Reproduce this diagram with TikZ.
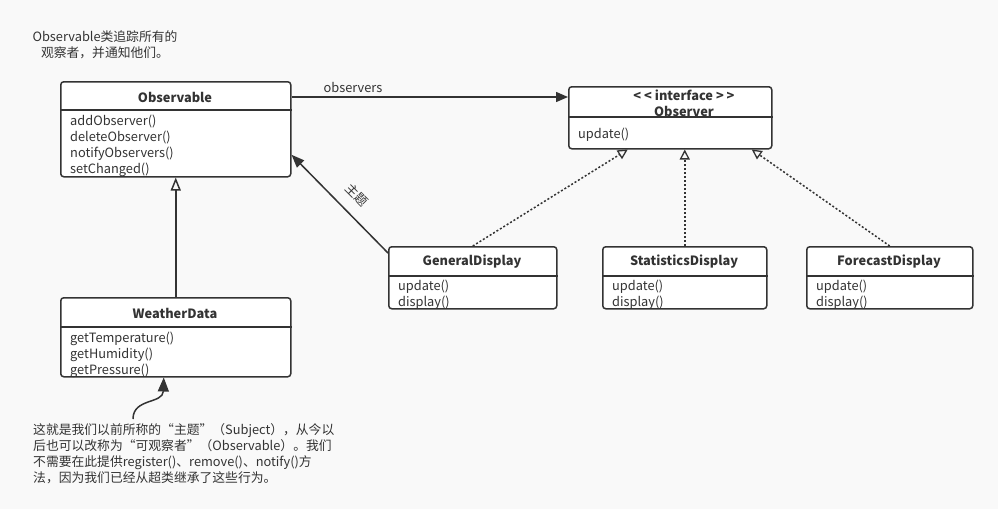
\documentclass[tikz,border=0pt]{standalone}
\usepackage{fontspec}
\setmainfont{Noto Sans CJK SC}
\usetikzlibrary{arrows.meta}
\definecolor{ink}{HTML}{333333}
\definecolor{bg}{HTML}{F9F9F9}
\begin{document}
\begin{tikzpicture}[x=1pt,y=1pt,
  umlbox/.style={draw=ink, line width=1.5pt, fill=white, rounded corners=3pt, anchor=north west, inner sep=0},
  sepline/.style={draw=ink, line width=1.5pt},
  title/.style={font=\fontsize{12.8}{14}\selectfont\bfseries, text=ink, inner sep=0},
  meth/.style={font=\fontsize{12.8}{16}\selectfont, text=ink, align=left, anchor=north west, inner sep=0},
  plain/.style={font=\fontsize{12.8}{16}\selectfont, text=ink, inner sep=0},
  conn/.style={draw=ink, line width=1.5pt},
  dotconn/.style={draw=ink, line width=1.5pt, dash pattern=on 2pt off 2pt},
  realhead/.style={-{Triangle[open,length=10pt,width=10pt,line width=1.3pt]}},
]
\useasboundingbox (0,0) rectangle (998,-509);
\fill[bg] (0,0) rectangle (998,-509);

% Observable
\node[umlbox, minimum width=230pt, minimum height=95pt] (obs) at (60,-81) {};
\draw[sepline] ([yshift=-29pt]obs.north west) -- ([yshift=-29pt]obs.north east);
\node[title] (obsT) at (175,-97) {Observable};
\node[meth] (obsM) at (70,-114.5) {addObserver()\\deleteObserver()\\notifyObservers()\\setChanged()};

% Observer
\node[umlbox, minimum width=203pt, minimum height=62pt] (obsv) at (568,-86) {};
\draw[sepline] ([yshift=-31pt]obsv.north west) -- ([yshift=-31pt]obsv.north east);
\node[title] (obsvS) at (684,-95) {< < interface > >};
\node[title] (obsvT) at (684,-111) {Observer};
\node[meth] (obsvM) at (578,-127.5) {update()};

% WeatherData
\node[umlbox, minimum width=230pt, minimum height=79pt] (wd) at (60,-297) {};
\draw[sepline] ([yshift=-30pt]wd.north west) -- ([yshift=-30pt]wd.north east);
\node[title] (wdT) at (175,-313) {WeatherData};
\node[meth] (wdM) at (70,-331.5) {getTemperature()\\getHumidity()\\getPressure()};

% GeneralDisplay
\node[umlbox, minimum width=168pt, minimum height=62pt] (gd) at (388,-246) {};
\draw[sepline] ([yshift=-30pt]gd.north west) -- ([yshift=-30pt]gd.north east);
\node[title] (gdT) at (472,-262) {GeneralDisplay};
\node[meth] (gdM) at (398,-279.5) {update()\\display()};

% StatisticsDisplay
\node[umlbox, minimum width=164pt, minimum height=62pt] (sd) at (602,-246) {};
\draw[sepline] ([yshift=-30pt]sd.north west) -- ([yshift=-30pt]sd.north east);
\node[title] (sdT) at (684,-262) {StatisticsDisplay};
\node[meth] (sdM) at (612,-279.5) {update()\\display()};

% ForecastDisplay
\node[umlbox, minimum width=166pt, minimum height=62pt] (fd) at (806,-246) {};
\draw[sepline] ([yshift=-30pt]fd.north west) -- ([yshift=-30pt]fd.north east);
\node[title] (fdT) at (889,-262) {ForecastDisplay};
\node[meth] (fdM) at (816,-279.5) {update()\\display()};

% connectors
\draw[conn, -{Triangle[length=12pt,width=10pt]}] ([yshift=-16pt]obs.north east) -- ([yshift=-11pt]obsv.north west);
\node[plain] (lblObs) at (353,-87) {observers};

\draw[conn, -{Triangle[open,length=13pt,width=10pt]}] (wd.north) -- (obs.south);

\draw[conn, -{Triangle[length=13pt,width=10pt]}] ([yshift=-7pt]gd.north west) -- ([yshift=-25.5pt]obs.east);
\node[plain, rotate=-45] (lblSub) at (357,-195) {主题};

\draw[dotconn, realhead] (gd.north) -- ([xshift=-42.5pt]obsv.south);
\draw[dotconn, realhead] (sd.north) -- ([xshift=14.5pt]obsv.south);
\draw[dotconn, realhead] (fd.north) -- ([xshift=81.5pt]obsv.south);

% notes
\node[plain, align=center] (note1) at (105,-45) {Observable类追踪所有的\\观察者，并通知他们。};

\node[plain, align=left, anchor=north west] (note2) at (33,-423.5) {这就是我们以前所称的“主题”（Subject），从今以\\后也可以改称为“可观察者”（Observable）。我们\\不需要在此提供register()、remove()、notify()方\\法，因为我们已经从超类继承了这些行为。};
\coordinate (c0) at (133,-419);
\draw[conn, -{Triangle[length=14pt,width=11pt]}] (c0) .. controls (133,-398) and (163,-404) .. ([xshift=-12pt]wd.south);
\end{tikzpicture}
\end{document}
